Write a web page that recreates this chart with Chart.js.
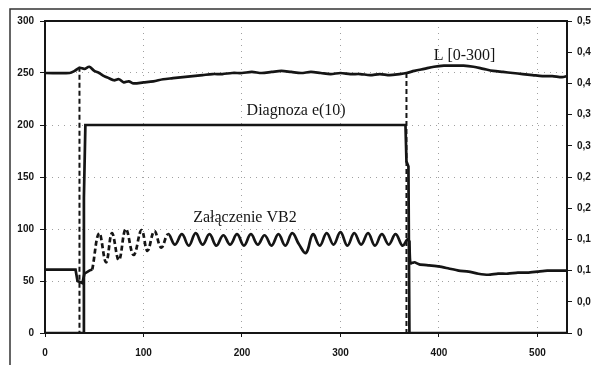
<!DOCTYPE html>
<html>
<head>
<meta charset="utf-8">
<script src="https://cdn.jsdelivr.net/npm/chart.js@4.4.1/dist/chart.umd.min.js"></script>
<style>
  html, body { margin: 0; padding: 0; background: #fff; }
  #wrap { position: relative; width: 591px; height: 365px; }
</style>
</head>
<body>
<div id="wrap"><canvas id="c" width="591" height="365"></canvas></div>
<script>
// ---- Data ----
const xTicks = [0, 100, 200, 300, 400, 500];
const leftTicks = [0, 50, 100, 150, 200, 250, 300];
const rightTickLabels = ["0", "0,05", "0,1", "0,15", "0,2", "0,25", "0,3", "0,35", "0,4", "0,45", "0,5"];

// L [0-300]
const lT = [0, 25, 30, 35, 40, 45, 50, 55, 60, 65, 70, 75, 80, 85, 90, 100, 110, 120, 130, 140, 150, 160, 170, 180, 190, 200, 210, 220, 230, 240, 250, 260, 270, 280, 290, 300, 310, 320, 330, 340, 350, 360, 367, 375, 385, 395, 405, 415, 425, 435, 445, 455, 465, 475, 485, 495, 505, 515, 525, 530];
const lV = [250, 250, 252, 255, 254, 256, 252, 250, 247, 245, 243, 244, 241, 242, 240, 241, 242, 244, 245, 246, 247, 248, 249, 249, 250, 250, 251, 250, 251, 252, 251, 250, 251, 250, 249, 250, 249, 249, 248, 249, 248, 249, 250, 252, 254, 256, 257, 257, 257, 256, 254, 252, 251, 250, 249, 248, 247, 247, 246, 247];

// Diagnoza e(10)
const dT = [0, 39, 39.5, 41, 366, 367, 369, 370, 530];
const dV = [0, 0, 130, 200, 200, 165, 160, 0, 0];

// Załączenie VB2 (before, during, after)
const vPreT = [0, 31, 33, 38, 40, 45, 48];
const vPreV = [61, 61, 50, 48, 57, 60, 61];
const oscT = [48, 55, 62, 68, 75, 82, 90, 98, 104, 111, 118, 125, 132, 139, 146, 153, 160, 167, 174, 181, 188, 195, 202, 209, 216, 223, 230, 237, 244, 251, 258, 265, 272, 279, 286, 293, 300, 307, 314, 321, 328, 335, 342, 349, 356, 363, 368, 370];
const oscV = [61, 96, 68, 96, 70, 100, 75, 99, 79, 98, 82, 95, 85, 95, 84, 96, 85, 95, 84, 94, 85, 95, 84, 95, 85, 94, 84, 95, 84, 96, 85, 77, 95, 84, 96, 85, 97, 84, 96, 85, 96, 84, 95, 85, 95, 84, 90, 89];
const vPostT = [370, 371, 375, 380, 390, 400, 410, 420, 430, 440, 450, 460, 470, 480, 490, 500, 510, 520, 530];
const vPostV = [89, 67, 68, 66, 65, 64, 62, 60, 59, 57, 56, 57, 57, 58, 58, 59, 60, 60, 60];

// Dashed event markers
const mT = [35, 35, 36, 367, 367];
const mV = [256, 0, null, 250, 0];

// Annotation labels (positions in data units)
const labels = [
  { text: "L [0-300]", t: 426, v: 267 },
  { text: "Diagnoza e(10)", t: 255, v: 214 },
  { text: "Załączenie VB2", t: 203, v: 111 }
];

const pts = (xs, ys) => xs.map((x, i) => ({ x: x, y: ys[i] }));
const INK = '#151515';

const framePlugin = {
  id: 'frame',
  beforeDraw(chart) {
    const ctx = chart.ctx;
    ctx.save();
    ctx.fillStyle = '#fff';
    ctx.fillRect(0, 0, chart.width, chart.height);
    ctx.strokeStyle = '#333';
    ctx.lineWidth = 1.5;
    ctx.strokeRect(10, 9, 700, 500);
    ctx.restore();
  },
  afterDatasetsDraw(chart) {
    const ctx = chart.ctx;
    const a = chart.chartArea;
    ctx.save();
    ctx.strokeStyle = INK;
    ctx.lineWidth = 2;
    ctx.beginPath();
    ctx.moveTo(a.left, a.top);
    ctx.lineTo(a.right, a.top);
    ctx.stroke();
    const xs = chart.scales.x, ys = chart.scales.y;
    ctx.fillStyle = INK;
    ctx.font = '16px "Liberation Serif", "Times New Roman", serif';
    ctx.textAlign = 'center';
    ctx.textBaseline = 'middle';
    labels.forEach(l => {
      ctx.fillText(l.text, xs.getPixelForValue(l.t), ys.getPixelForValue(l.v));
    });
    ctx.restore();
  }
};

const lineBase = { pointRadius: 0, borderColor: INK, borderWidth: 2.7, fill: false, yAxisID: 'y' };

new Chart(document.getElementById('c'), {
  type: 'line',
  data: {
    datasets: [
      Object.assign({}, lineBase, { label: 'L [0-300]', data: pts(lT, lV), tension: 0.3 }),
      Object.assign({}, lineBase, { label: 'Diagnoza e(10)', data: pts(dT, dV), tension: 0 }),
      Object.assign({}, lineBase, { label: 'VB2 pre', data: pts(vPreT, vPreV), tension: 0 }),
      Object.assign({}, lineBase, {
        label: 'Załączenie VB2', data: pts(oscT, oscV), tension: 0.4,
        segment: { borderDash: ctx => (ctx.p0.parsed.x < 120 ? [5, 3] : undefined) }
      }),
      Object.assign({}, lineBase, { label: 'VB2 post', data: pts(vPostT, vPostV), tension: 0.2 }),
      Object.assign({}, lineBase, { label: 'markers', data: pts(mT, mV), borderDash: [5, 3], borderWidth: 2, spanGaps: false, tension: 0 })
    ]
  },
  options: {
    responsive: false,
    animation: false,
    events: [],
    layout: { padding: { top: 21, left: 0, right: 0, bottom: 0 } },
    plugins: { legend: { display: false }, tooltip: { enabled: false } },
    scales: {
      x: {
        type: 'linear', min: 0, max: 530,
        afterBuildTicks: s => { s.ticks = xTicks.map(v => ({ value: v })); },
        afterFit: s => { s.height = 32; },
        ticks: { color: INK, font: { family: '"Liberation Sans", Arial, sans-serif', size: 10, weight: 'bold' }, padding: 10, maxRotation: 0, autoSkip: false },
        grid: { color: '#a0a0a0', lineWidth: 1, tickColor: INK, tickLength: 4, tickWidth: 1 },
        border: { color: INK, width: 2, dash: [1, 5] }
      },
      y: {
        position: 'left', min: 0, max: 300,
        afterBuildTicks: s => { s.ticks = leftTicks.map(v => ({ value: v })); },
        afterFit: s => { s.width = 45; },
        ticks: { color: INK, font: { family: '"Liberation Sans", Arial, sans-serif', size: 10, weight: 'bold' }, padding: 6, autoSkip: false },
        grid: { color: '#a0a0a0', lineWidth: 1, tickColor: INK, tickLength: 5, tickWidth: 1 },
        border: { color: INK, width: 2, dash: [1, 5] }
      },
      y2: {
        position: 'right', min: 0, max: 0.5,
        afterBuildTicks: s => { s.ticks = rightTickLabels.map((t, i) => ({ value: i * 0.05 })); },
        afterFit: s => { s.width = 24; },
        ticks: {
          color: INK, font: { family: '"Liberation Sans", Arial, sans-serif', size: 10, weight: 'bold' }, padding: 5, autoSkip: false,
          callback: (v, i) => rightTickLabels[i]
        },
        grid: { drawOnChartArea: false, tickColor: INK, tickLength: 5, tickWidth: 1 },
        border: { color: INK, width: 2 }
      }
    }
  },
  plugins: [framePlugin]
});
</script>
</body>
</html>
